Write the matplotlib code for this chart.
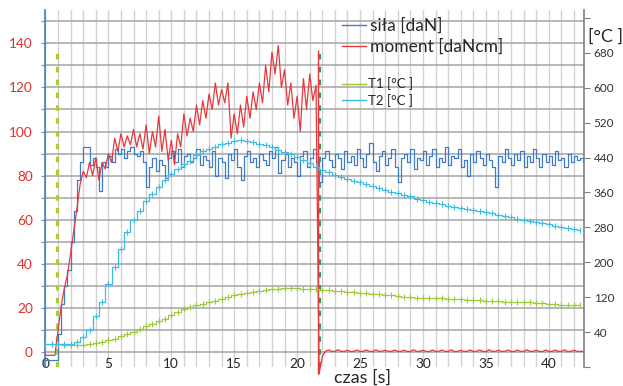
import numpy as np
import matplotlib.pyplot as plt
from matplotlib.lines import Line2D

plt.rcParams['font.family'] = ['Lato', 'DejaVu Sans']

# czas probkowania sily i momentu [s]
t_f = np.arange(0, 42.8, 0.25)
# sila [daN]
sila = [-3.5, -3.5, -3.5, -3.5, 8, 22, 30, 37, 50, 64,
        78, 86, 93, 93, 85, 88, 84, 73, 86, 84,
        89, 86, 92, 90, 92, 88, 91, 93, 90, 89,
        91, 86, 75, 84, 88, 82, 87, 85, 79, 88,
        91, 86, 92, 84, 89, 90, 86, 88, 92, 85,
        89, 87, 84, 91, 80, 88, 86, 79, 90, 87,
        92, 84, 78, 89, 91, 86, 88, 84, 90, 87,
        85, 91, 88, 93, 81, 87, 90, 84, 88, 86,
        80, 89, 91, 84, 88, 92, 86, 77, 88, 91,
        87, 84, 90, 88, 83, 91, 86, 89, 85, 92,
        88, 84, 90, 95, 86, 82, 89, 91, 85, 88,
        92, 84, 77, 88, 90, 86, 92, 83, 88, 87,
        91, 85, 89, 92, 84, 88, 86, 93, 85, 89,
        88, 92, 84, 87, 80, 90, 86, 91, 88, 85,
        90, 87, 84, 75, 89, 86, 92, 88, 85, 90,
        87, 91, 84, 89, 86, 92, 88, 84, 90, 86,
        89, 85, 91, 87, 88, 84, 90, 86, 89, 87,
        88, 86]
# moment [daNcm]
moment = [-1.5, -1.5, -1.5, -1.5, 10, 21, 29, 35, 45, 55,
          65, 76, 82, 79, 86, 80, 88, 78, 86, 83,
          90, 86, 97, 91, 99, 93, 98, 94, 101, 93,
          99, 92, 103, 90, 100, 93, 107, 91, 101, 87,
          96, 85, 99, 93, 108, 98, 106, 100, 112, 103,
          114, 106, 117, 110, 122, 112, 119, 113, 122, 97,
          108, 99, 112, 102, 116, 106, 118, 110, 122, 113,
          130, 118, 136, 126, 139, 120, 128, 112, 122, 106,
          116, 100, 124, 110, 126, 114, 121, -10,
          -2, 0.3, 0.9, 0.3, 0.3, 1.0, 0.3, 0.3, 0.8, 0.2, 0.3, 0.9,
          0.3, 0.3, 0.9, 0.3, 0.2, 1.0, 0.3, 0.4, 0.8, 0.3, 0.3, 0.9,
          0.3, 0.3, 0.9, 0.2, 0.3, 1.0, 0.3, 0.3, 0.8, 0.3, 0.2, 0.9,
          0.3, 0.3, 0.9, 0.3, 0.3, 1.0, 0.2, 0.3, 0.8, 0.3, 0.3, 0.9,
          0.3, 0.3, 0.9, 0.3, 0.2, 1.0, 0.3, 0.3, 0.8, 0.3, 0.3, 0.9,
          0.3, 0.2, 0.9, 0.3, 0.3, 1.0, 0.3, 0.3, 0.8, 0.3, 0.2, 0.9,
          0.3, 0.3, 0.9, 0.3, 0.3, 1.0, 0.2, 0.3, 0.8, 0.3, 0.3, 0.3]

# czas probkowania temperatur [s]
t_T = np.arange(0, 42.6, 0.5)
T1 = [12, 12, 12, 11, 11, 10, 10, 12, 15, 18,
      22, 25, 30, 35, 41, 47, 53, 59, 65, 71,
      79, 86, 92, 97, 101, 105, 109, 112, 116, 121,
      126, 128, 130, 132, 134, 136, 138, 139, 140, 140,
      140, 139, 139, 138, 137, 136, 135, 134, 133, 132,
      130, 129, 128, 127, 125, 124, 122, 121, 120, 119,
      118, 118, 117, 117, 116, 115, 115, 114, 113, 113,
      112, 112, 111, 110, 110, 109, 108, 108, 107, 106,
      105, 104, 103, 102, 102, 101]
T2 = [12, 12, 12, 12, 13, 17, 28, 45, 78, 110,
      150, 188, 230, 270, 297, 318, 340, 357, 372, 388,
      402, 413, 424, 433, 446, 454, 460, 465, 470, 474,
      477, 479, 477, 475, 472, 468, 463, 458, 452, 447,
      441, 434, 427, 418, 411, 406, 401, 396, 391, 387,
      383, 379, 374, 370, 366, 362, 359, 355, 351, 346,
      342, 339, 336, 333, 330, 327, 324, 322, 320, 318,
      316, 313, 309, 306, 303, 300, 297, 294, 292, 290,
      287, 284, 281, 279, 277, 275]

# znaczniki czasu: poczatek i koniec tarcia
t_start = 0.95
t_stop = 21.65
t_stop2 = 21.75

c_sila = '#3F7CC4'
c_mom = '#E8383C'
c_T1 = '#9CC83A'
c_T2 = '#3DBDE6'

fig = plt.figure(figsize=(6.23, 3.86), dpi=100)
ax = fig.add_axes([0.073, 0.0492, 0.8644, 0.9249])
ax2 = ax.twinx()

ax.set_xlim(0, 42.8)
ax.set_ylim(-6.8, 155.1)
ax2.set_ylim(-37.7, 778)

# siatka
ax.set_xticks(range(0, 41, 5))
ax.set_xticks(range(0, 43), minor=True)
ax.set_yticks(range(0, 141, 20))
ax.set_yticks(range(10, 151, 20), minor=True)
ax.xaxis.grid(True, which='both', color='#D2D2D2', lw=1.0)
ax.yaxis.grid(True, which='both', color='#A4A4A4', lw=1.1)
ax.set_axisbelow(True)

ax.spines['top'].set_visible(False)
ax.spines['right'].set_visible(False)
ax.spines['bottom'].set_position(('data', 0))
ax.spines['bottom'].set_visible(False)
ax.spines['left'].set_color(c_sila)
ax.spines['left'].set_linewidth(1.2)
ax.tick_params(axis='x', which='both', length=0, pad=4, labelsize=9.8, labelcolor='#262626')
ax.tick_params(axis='y', which='both', length=3, width=0.8, color='#909090',
               labelsize=9.8, labelcolor='#E0302F', pad=6)

ax2.spines['top'].set_visible(False)
ax2.spines['left'].set_visible(False)
ax2.spines['bottom'].set_visible(False)
ax2.spines['right'].set_color('#7F7F7F')
ax2.spines['right'].set_linewidth(1.2)
ax2.set_yticks(range(40, 681, 80))
ax2.set_yticks(range(-40, 761, 80), minor=True)
ax2.tick_params(axis='y', which='both', length=4, width=0.8, color='#7F7F7F',
                labelsize=8.5, labelcolor='#333333', pad=3)

# znaczniki pionowe
ax.vlines(t_start, -6.8, 137, color='#A6CE39', lw=2.2, linestyles=(0, (1.8, 2.4)))
ax.vlines(t_stop2, -6.8, 137, color='#33995A', lw=2.2, linestyles=(0, (1.8, 2.4)))
ax.vlines(t_stop, -10, 137, color=c_mom, lw=1.0, clip_on=False)

ax.step(t_f, sila, where='post', color=c_sila, lw=0.9)
ax.plot(t_f, moment, color=c_mom, lw=0.9, clip_on=False)

ax2.step(t_T, T1, where='mid', color=c_T1, lw=0.9, marker='|', ms=4, mew=0.8)
ax2.step(t_T, T2, where='mid', color=c_T2, lw=0.9, marker='|', ms=4, mew=0.8)

h1 = [Line2D([], [], color=c_sila, lw=1.0), Line2D([], [], color=c_mom, lw=1.0)]
leg1 = ax2.legend(h1, ['siła [daN]', 'moment [daNcm]'], loc='upper left',
                  bbox_to_anchor=(0.5506, 0.979), frameon=False, fontsize=12.5,
                  borderpad=0, borderaxespad=0, handlelength=1.4, handletextpad=0.2,
                  labelspacing=0.3, labelcolor='#262626')
ax2.add_artist(leg1)
h2 = [Line2D([], [], color=c_T1, lw=1.0), Line2D([], [], color=c_T2, lw=1.0)]
ax2.legend(h2, ['T1 [°C ]', 'T2 [°C ]'], loc='upper left',
           bbox_to_anchor=(0.5506, 0.811), frameon=False, fontsize=9.5,
           borderpad=0, borderaxespad=0, handlelength=1.8, handletextpad=0.2,
           labelspacing=0.25, labelcolor='#262626')

fig.text(588 / 623, 1 - 37 / 386, '[°C ]', fontsize=13, color='#262626',
         ha='left', va='center')
fig.text(362 / 623, 1 - 378 / 386, 'czas [s]', fontsize=13, color='#262626',
         ha='center', va='center')

fig.savefig('out.png', dpi=100)
